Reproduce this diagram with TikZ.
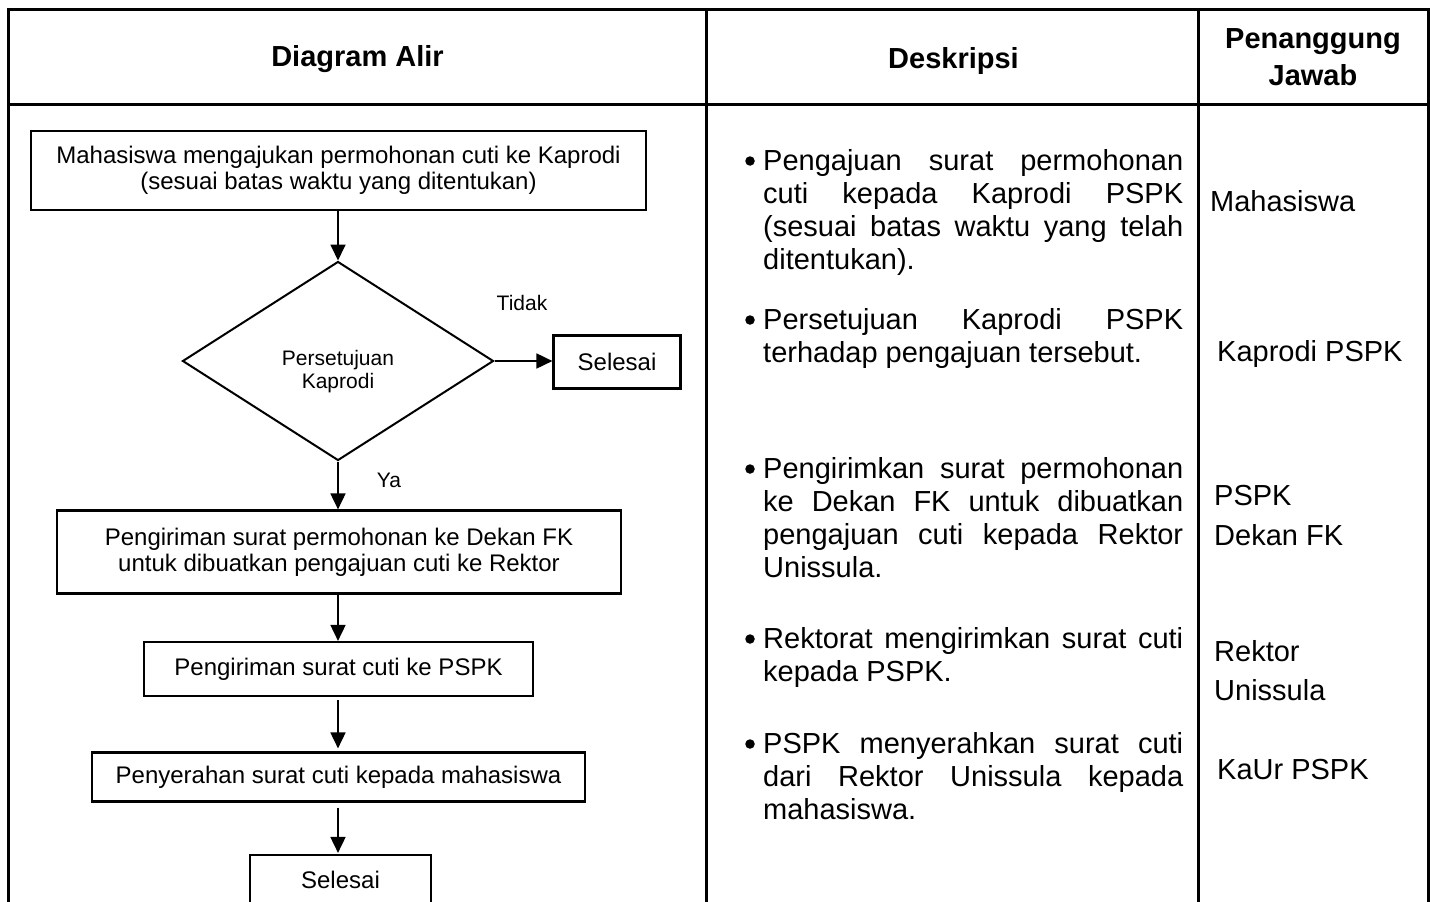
\documentclass[tikz,border=0pt]{standalone}
\usepackage{fontspec}
\setmainfont{Liberation Sans}
\usetikzlibrary{shapes.geometric,arrows.meta}
\begin{document}
\begin{tikzpicture}[x=1pt,y=-1pt,
  tbl/.style={line width=3pt},
  fbox/.style={draw,line width=2.2pt,inner sep=0pt,align=center,font=\fontsize{24}{26}\selectfont},
  arr/.style={line width=1.8pt,-{Triangle[length=16pt,width=15pt]}},
  desc/.style={anchor=base west,inner sep=0pt,font=\fontsize{29}{33}\selectfont},
  bul/.style={circle,fill,inner sep=0pt,minimum size=9.5pt},
  pj/.style={anchor=base west,inner sep=0pt,font=\fontsize{29}{33}\selectfont},
  hdr/.style={anchor=base,inner sep=0pt,font=\fontsize{29}{33}\selectfont\bfseries},
  small/.style={inner sep=0pt,align=center,font=\fontsize{21}{23}\selectfont}]
\useasboundingbox (0,0) rectangle (1430,902);
\clip (0,0) rectangle (1430,902);
% table
\coordinate (tA) at (8,910);
\coordinate (tB) at (8,9);
\coordinate (tC) at (1428,9);
\coordinate (tD) at (1428,910);
\coordinate (hL) at (8,104);
\coordinate (hR) at (1428,104);
\coordinate (c1t) at (706,9);
\coordinate (c1b) at (706,910);
\coordinate (c2t) at (1198,9);
\coordinate (c2b) at (1198,910);
\draw[tbl] (tA) -- (tB) -- (tC) -- (tD);
\draw[tbl] (hL) -- (hR);
\draw[tbl] (c1t) -- (c1b);
\draw[tbl] (c2t) -- (c2b);
% headers
\node[hdr] (h1) at (357.5,66) {Diagram Alir};
\node[hdr] (h2) at (953.5,68) {Deskripsi};
\node[hdr] (h3a) at (1313,48) {Penanggung};
\node[hdr] (h3b) at (1313,85) {Jawab};
% flowchart
\node[fbox,minimum width=615pt,minimum height=79pt] (b1) at (338.5,170.5)
  {Mahasiswa mengajukan permohonan cuti ke Kaprodi\\(sesuai batas waktu yang ditentukan)};
\node[draw,shape=diamond,aspect=1.56,line width=2pt,inner sep=0pt,minimum width=311pt,minimum height=199pt] (d) at (338,361) {};
\node[small] (dt) at (338,371.5) {Persetujuan\\Kaprodi};
\node[fbox,minimum width=127pt,minimum height=53pt] (s1) at (617,362) {Selesai};
\node[small] (tidak) at (522,303) {Tidak};
\node[small] (ya) at (389,480) {Ya};
\node[fbox,minimum width=564pt,minimum height=83pt] (b3) at (339,552)
  {Pengiriman surat permohonan ke Dekan FK\\untuk dibuatkan pengajuan cuti ke Rektor};
\node[fbox,minimum width=389pt,minimum height=54pt] (b4) at (338.5,669) {Pengiriman surat cuti ke PSPK};
\node[fbox,minimum width=493pt,minimum height=49pt] (b5) at (338.5,777) {Penyerahan surat cuti kepada mahasiswa};
\node[fbox,minimum width=181pt,minimum height=50pt] (b6) at (340.5,880) {Selesai};
\draw[arr] (d.north |- b1.south) -- (d.north);
\draw[arr] (d.east) -- (s1.west |- d.east);
\draw[arr] (d.south) -- (d.south |- b3.north);
\draw[arr] (d.south |- b3.south) -- (d.south |- b4.north);
\draw[arr,shorten <=3pt,shorten >=3pt] (d.south |- b4.south) -- (d.south |- b5.north);
\draw[arr,shorten <=5pt,shorten >=1pt] (d.south |- b5.south) -- (d.south |- b6.north);
% descriptions
\node[bul] (u1) at (750,161) {};
\node[desc] (p1a) at (763,170) {\makebox[420pt][s]{Pengajuan surat permohonan}};
\node[desc] (p1b) at (763,203) {\makebox[420pt][s]{cuti kepada Kaprodi PSPK}};
\node[desc] (p1c) at (763,236) {\makebox[420pt][s]{(sesuai batas waktu yang telah}};
\node[desc] (p1d) at (763,269) {ditentukan).};
\node[bul] (u2) at (750,320) {};
\node[desc] (p2a) at (763,329) {\makebox[420pt][s]{Persetujuan Kaprodi PSPK}};
\node[desc] (p2b) at (763,362) {terhadap pengajuan tersebut.};
\node[bul] (u3) at (750,469) {};
\node[desc] (p3a) at (763,478) {\makebox[420pt][s]{Pengirimkan surat permohonan}};
\node[desc] (p3b) at (763,511) {\makebox[420pt][s]{ke Dekan FK untuk dibuatkan}};
\node[desc] (p3c) at (763,544) {\makebox[420pt][s]{pengajuan cuti kepada Rektor}};
\node[desc] (p3d) at (763,577) {Unissula.};
\node[bul] (u4) at (750,639) {};
\node[desc] (p4a) at (763,648) {\makebox[420pt][s]{Rektorat mengirimkan surat cuti}};
\node[desc] (p4b) at (763,681) {kepada PSPK.};
\node[bul] (u5) at (750,744) {};
\node[desc] (p5a) at (763,753) {\makebox[420pt][s]{PSPK menyerahkan surat cuti}};
\node[desc] (p5b) at (763,786) {\makebox[420pt][s]{dari Rektor Unissula kepada}};
\node[desc] (p5c) at (763,819) {mahasiswa.};
% penanggung jawab
\node[pj] (r1) at (1210,211) {Mahasiswa};
\node[pj] (r2) at (1217,361) {Kaprodi PSPK};
\node[pj] (r3a) at (1214,505) {PSPK};
\node[pj] (r3b) at (1214,545) {Dekan FK};
\node[pj] (r4a) at (1214,661) {Rektor};
\node[pj] (r4b) at (1214,700) {Unissula};
\node[pj] (r5) at (1217,779) {KaUr PSPK};
\end{tikzpicture}
\end{document}
